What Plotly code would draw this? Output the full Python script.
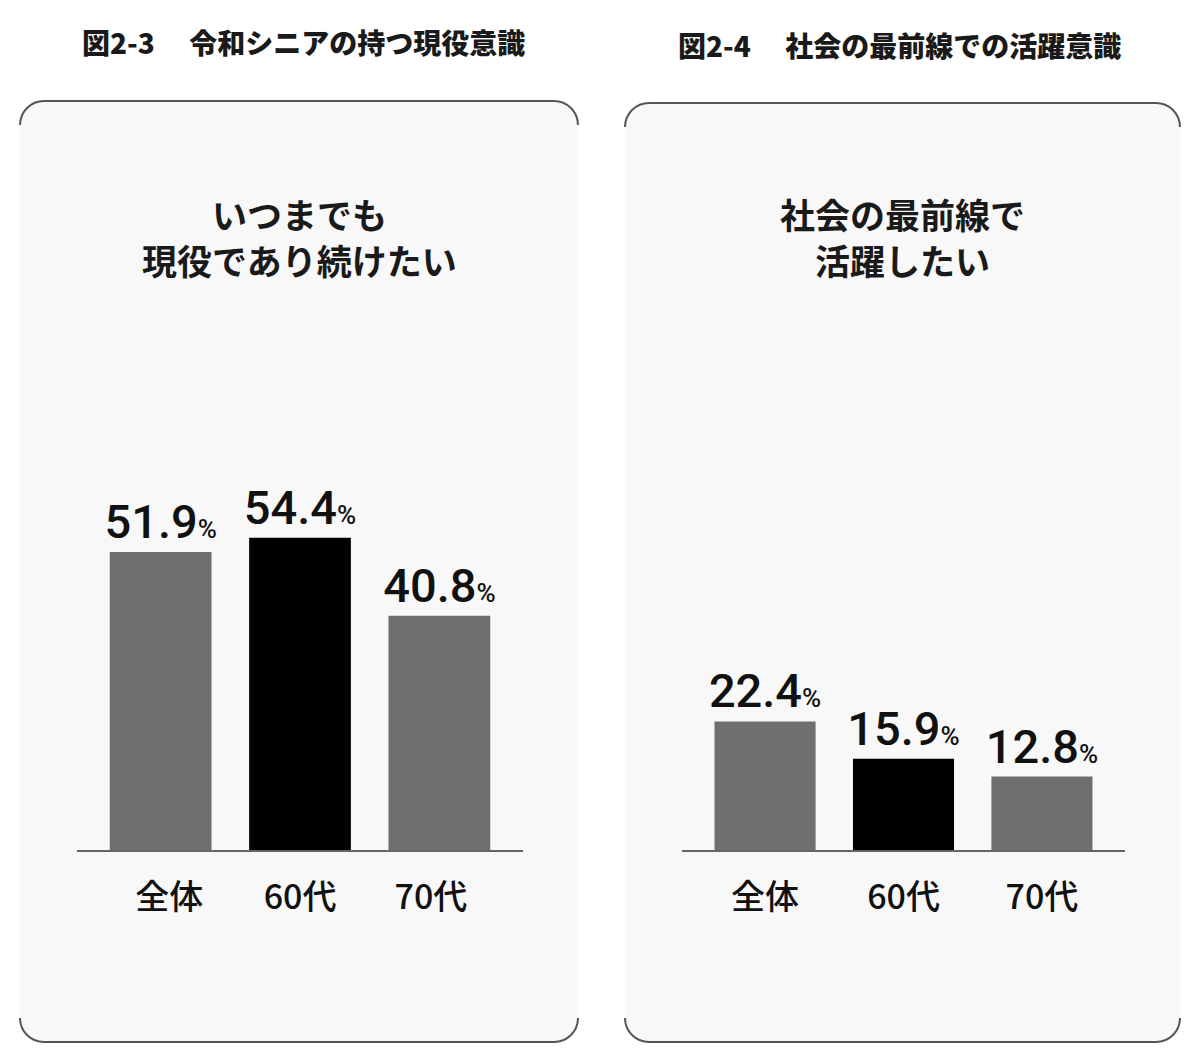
import plotly.graph_objects as go

# ---- data ----
categories = ["全体", "60代", "70代"]
values_left = [51.9, 54.4, 40.8]
values_right = [22.4, 15.9, 12.8]
bar_colors = ["#6f6f6f", "#000000", "#6f6f6f"]
ticktext_left = ["\u2002全体", "60代", "70代\u2002"]
title_left = "図2-3　 令和シニアの持つ現役意識"
title_right = "図2-4　 社会の最前線での活躍意識"
sub_left = ["いつまでも", "現役であり続けたい"]
sub_right = ["社会の最前線で", "活躍したい"]

W, H = 1200, 1058
CJK = "Noto Sans CJK JP, Noto Sans, sans-serif"
NUM = "Roboto, DejaVu Sans Condensed, sans-serif"


def px(x):
    return x / W


def py(y):
    return 1 - y / H


def rounded_paths(x0, y0, x1, y1, r):
    k = 0.5523

    def P(x, y):
        return f"{px(x):.5f},{py(y):.5f}"
    tl = f"C {P(x0, y0 + r * (1 - k))} {P(x0 + r * (1 - k), y0)} {P(x0 + r, y0)} "
    tr = f"C {P(x1 - r * (1 - k), y0)} {P(x1, y0 + r * (1 - k))} {P(x1, y0 + r)} "
    br = f"C {P(x1, y1 - r * (1 - k))} {P(x1 - r * (1 - k), y1)} {P(x1 - r, y1)} "
    bl = f"C {P(x0 + r * (1 - k), y1)} {P(x0, y1 - r * (1 - k))} {P(x0, y1 - r)} "
    full = (f"M {P(x0, y0 + r)} " + tl + f"L {P(x1 - r, y0)} " + tr +
            f"L {P(x1, y1 - r)} " + br + f"L {P(x0 + r, y1)} " + bl + "Z")
    top = f"M {P(x0, y0 + r)} " + tl + f"L {P(x1 - r, y0)} " + tr
    bottom = f"M {P(x1, y1 - r)} " + br + f"L {P(x0 + r, y1)} " + bl
    return full, top, bottom


shapes = []
for (x0, y0, x1, y1) in [(20, 101, 578, 1042), (625, 103, 1180, 1042)]:
    full, top, bottom = rounded_paths(x0, y0, x1, y1, 24)
    shapes.append(dict(type="path", path=full, xref="paper", yref="paper",
                       fillcolor="#f8f8f8", line=dict(width=0), layer="below"))
    for p in (top, bottom):
        shapes.append(dict(type="path", path=p, xref="paper", yref="paper",
                           fillcolor="rgba(0,0,0,0)",
                           line=dict(color="#555555", width=2), layer="below"))

fig = go.Figure()
pct = "<span style='font-size:26px'>%</span>"
for vals, xa, ya in [(values_left, "x", "y"), (values_right, "x2", "y2")]:
    fig.add_trace(go.Bar(
        x=categories, y=vals, xaxis=xa, yaxis=ya,
        marker=dict(color=bar_colors, line=dict(width=0)),
        width=0.73,
        texttemplate="%{y:.1f}" + pct,
        textposition="outside",
        constraintext="none",
        cliponaxis=False,
        textfont=dict(family=NUM, size=47, color="#111111", weight=500),
        showlegend=False, hoverinfo="skip",
    ))

ymax = 850 / 5.74
ydom = [py(850), 1]
xcommon = dict(type="category", range=[-0.6, 2.6], showline=True,
               linecolor="#666666", linewidth=2, ticks="", showgrid=False,
               zeroline=False, ticklabelstandoff=16,
               tickfont=dict(family=CJK, size=34, color="#111111", weight=500))
ycommon = dict(range=[0, ymax], domain=ydom, visible=False, showgrid=False,
               zeroline=False)

annotations = [
    dict(text=title_left, x=px(80), y=py(42), xref="paper", yref="paper",
         xanchor="left", yanchor="middle", showarrow=False,
         font=dict(family=CJK, size=28, color="#1a1a1a", weight=900)),
    dict(text=title_right, x=px(676), y=py(45), xref="paper", yref="paper",
         xanchor="left", yanchor="middle", showarrow=False,
         font=dict(family=CJK, size=28, color="#1a1a1a", weight=900)),
]
for lines, xc in [(sub_left, 299), (sub_right, 902)]:
    for line, yc in zip(lines, [213, 259]):
        annotations.append(dict(
            text=line, x=px(xc), y=py(yc), xref="paper", yref="paper",
            xanchor="center", yanchor="middle", showarrow=False,
            font=dict(family=CJK, size=35, color="#1a1a1a", weight=700)))

fig.update_layout(
    width=W, height=H,
    margin=dict(l=0, r=0, t=0, b=0),
    paper_bgcolor="white", plot_bgcolor="rgba(0,0,0,0)",
    xaxis=dict(domain=[px(77), px(523)], anchor="y",
               tickmode="array", tickvals=categories, ticktext=ticktext_left,
               **xcommon),
    xaxis2=dict(domain=[px(682), px(1125)], anchor="y2", **xcommon),
    yaxis=dict(anchor="x", **ycommon),
    yaxis2=dict(anchor="x2", **ycommon),
    shapes=shapes,
    annotations=annotations,
    bargap=0.27,
)

fig.write_html("out.html")
